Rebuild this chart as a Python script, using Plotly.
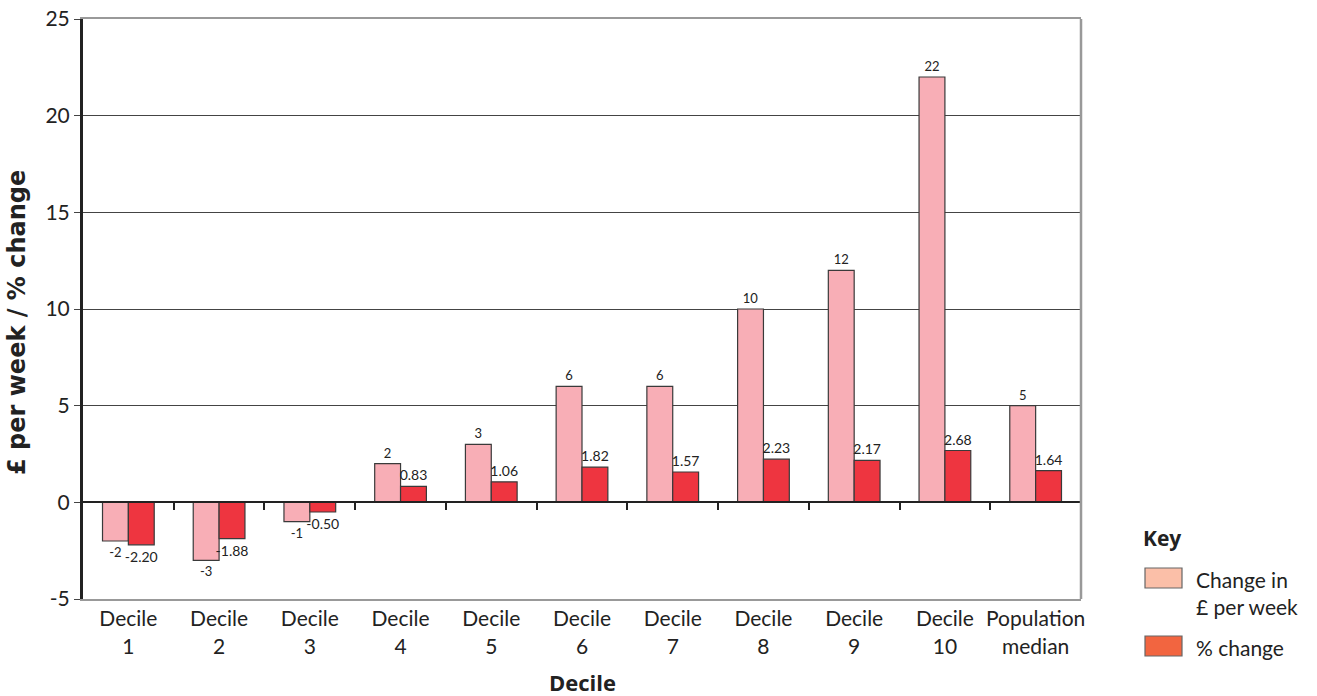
import plotly.graph_objects as go

# Weekly income change by decile
categories = ["Decile<br>1", "Decile<br>2", "Decile<br>3", "Decile<br>4", "Decile<br>5",
              "Decile<br>6", "Decile<br>7", "Decile<br>8", "Decile<br>9", "Decile<br>10",
              "Population<br>median"]
change_pounds = [-2, -3, -1, 2, 3, 6, 6, 10, 12, 22, 5]
change_percent = [-2.20, -1.88, -0.50, 0.83, 1.06, 1.82, 1.57, 2.23, 2.17, 2.68, 1.64]

y_ticks = [-5, 0, 5, 10, 15, 20, 25]

FONT = "Lato, 'Open Sans', sans-serif"
BOLD = "'Open Sans', Lato, sans-serif"
PINK = "#F8AEB6"
RED = "#EE3540"
EDGE = "#3a3a3a"
INK = "#222"

fig = go.Figure()

fig.add_trace(go.Bar(
    x=categories, y=change_pounds, name="Change in £ per week",
    marker=dict(color=PINK, line=dict(color=EDGE, width=1.2)),
    text=[str(v) for v in change_pounds], textposition="outside",
    textfont=dict(size=13, color=INK, family=FONT),
    constraintext="none", cliponaxis=False, showlegend=False,
))
fig.add_trace(go.Bar(
    x=categories, y=change_percent, name="% change",
    marker=dict(color=RED, line=dict(color=EDGE, width=1.2)),
    text=[f"{v:.2f}" for v in change_percent], textposition="outside",
    textfont=dict(size=14, color=INK, family=FONT),
    constraintext="none", cliponaxis=False, showlegend=False,
))

# Category boundary ticks hanging from the zero line
n = len(categories)
fig.add_trace(go.Scatter(x=[None], y=[None], xaxis="x2", showlegend=False, hoverinfo="skip"))

fig.update_layout(
    width=1317, height=696,
    margin=dict(l=83, r=236, t=19, b=97),
    paper_bgcolor="white", plot_bgcolor="white",
    font=dict(family=FONT, color=INK),
    barmode="group", bargap=0.43, bargroupgap=0,
    showlegend=False,
    xaxis=dict(
        tickfont=dict(size=21, color=INK), automargin=False,
        showgrid=False, showline=True, linecolor="#999", linewidth=2, mirror=True,
        ticks="", range=[-0.5, n - 0.5],
    ),
    xaxis2=dict(
        overlaying="x", anchor="free", position=5 / 30, range=[-0.5, n - 0.5],
        tickmode="array", tickvals=[i + 0.5 for i in range(n - 1)], showticklabels=False,
        ticks="outside", ticklen=7, tickwidth=1.5, tickcolor=INK,
        showline=True, linecolor=INK, linewidth=2, showgrid=False, zeroline=False,
    ),
    yaxis=dict(
        range=[-5, 25], tickmode="array", tickvals=y_ticks, ticktext=[str(t) for t in y_ticks],
        tickfont=dict(size=21, color=INK), automargin=False,
        showgrid=True, gridcolor="#444", gridwidth=1,
        zeroline=False,
        showline=True, linecolor=INK, linewidth=3,
        ticks="outside", ticklen=6, tickcolor="#444",
    ),
)

# Right frame edge
fig.add_shape(type="line", xref="paper", yref="paper", x0=1, x1=1, y0=0, y1=1,
              line=dict(color="#999", width=2.5))

# Pixel helpers relative to the plot area
W = 1317 - 83 - 236
H = 696 - 19 - 97


def px_x(x):
    return (x - 83) / W


def px_y(y):
    return (599 - y) / H


# Axis titles
fig.add_annotation(xref="paper", yref="paper", x=px_x(17), y=px_y(323), xanchor="center", yanchor="middle",
                   text="<b>£ per week / % change</b>", textangle=-90, showarrow=False,
                   font=dict(size=24, color=INK, family="'DejaVu Sans', sans-serif"))
fig.add_annotation(xref="paper", yref="paper", x=px_x(582), y=px_y(682), xanchor="center", yanchor="middle",
                   text="<b>Decile</b>", showarrow=False,
                   font=dict(size=22, color=INK, family=BOLD))

# Key
fig.add_annotation(xref="paper", yref="paper", x=px_x(1141), y=px_y(538), xanchor="left", yanchor="middle",
                   text="<b>Key</b>", showarrow=False, font=dict(size=21, color=INK, family=BOLD))

key_rows = [("Change in<br>£ per week", "#FBBFA8", 578), ("% change", "#F26540", 646)]
for label, col, ypx in key_rows:
    fig.add_shape(type="rect", xref="paper", yref="paper",
                  x0=px_x(1145), x1=px_x(1182), y0=px_y(ypx + 10), y1=px_y(ypx - 10),
                  fillcolor=col, line=dict(color="#666", width=1.2))
    fig.add_annotation(xref="paper", yref="paper", x=px_x(1194), y=px_y(ypx - 13),
                       xanchor="left", yanchor="top", align="left",
                       text=label, showarrow=False, font=dict(size=21, color=INK))

fig.write_html("out.html")
